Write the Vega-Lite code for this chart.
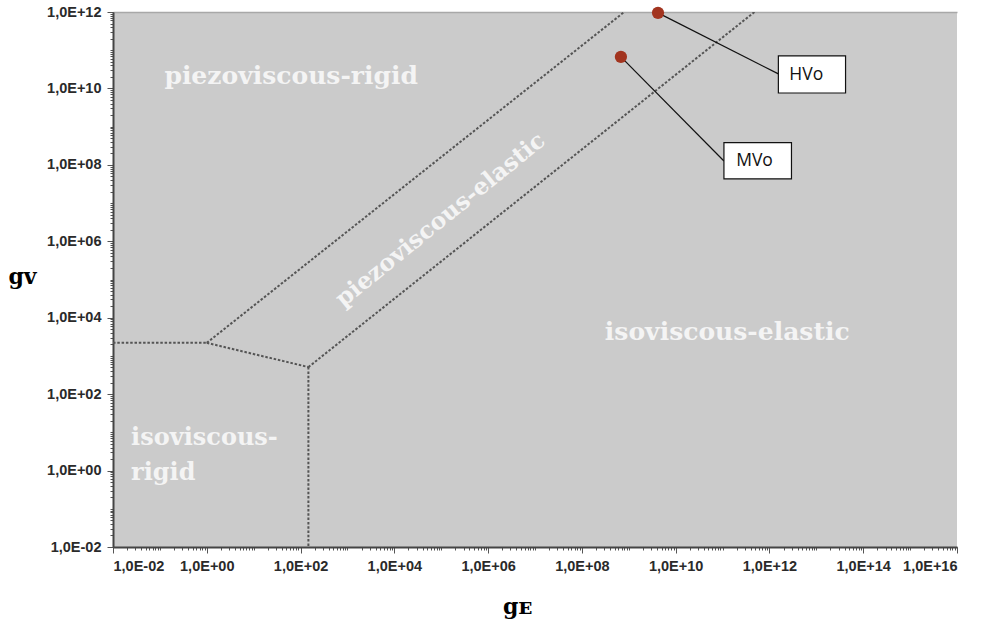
{
  "$schema": "https://vega.github.io/schema/vega-lite/v6.json",
  "width": 844,
  "height": 535,
  "autosize": {"type": "none"},
  "padding": {"left": 113, "top": 12, "right": 29, "bottom": 81},
  "background": "#ffffff",
  "config": {
    "view": {"fill": "#cbcbcb", "stroke": null},
    "axis": {
      "grid": false,
      "domainColor": "#444444",
      "domainWidth": 2,
      "tickColor": "#555555",
      "tickSize": 5,
      "labelFont": "Liberation Sans",
      "labelFontSize": 14.5,
      "labelFontWeight": "bold",
      "labelColor": "#2a2a2a",
      "titleFont": "DejaVu Serif",
      "titleFontSize": 22,
      "titleFontWeight": "bold",
      "titleColor": "#000000"
    }
  },
  "resolve": {"axis": {"x": "independent", "y": "independent"}},
  "datasets": {
    "bounds": [
      {"seg": "A", "ord": 1, "gE": 0.01, "gV": 2200},
      {"seg": "A", "ord": 2, "gE": 1, "gV": 2200},
      {"seg": "B", "ord": 1, "gE": 1, "gV": 2200},
      {"seg": "B", "ord": 2, "gE": 147, "gV": 510},
      {"seg": "C", "ord": 1, "gE": 147, "gV": 510},
      {"seg": "C", "ord": 2, "gE": 147, "gV": 0.01},
      {"seg": "D", "ord": 1, "gE": 1, "gV": 2200},
      {"seg": "D", "ord": 2, "gE": 8e8, "gV": 1e12},
      {"seg": "E", "ord": 1, "gE": 147, "gV": 510},
      {"seg": "E", "ord": 2, "gE": 4.8e11, "gV": 1e12}
    ],
    "oils": [
      {"name": "HVo", "gE": 4.2e9, "gV": 9.5e11},
      {"name": "MVo", "gE": 6.8e8, "gV": 6.7e10}
    ],
    "connectors": [
      {"name": "HVo", "ord": 1, "gE": 4.2e9, "gV": 9.5e11},
      {"name": "HVo", "ord": 2, "gE": 1.55e12, "gV": 2.4e10},
      {"name": "MVo", "ord": 1, "gE": 6.8e8, "gV": 6.7e10},
      {"name": "MVo", "ord": 2, "gE": 1.07e11, "gV": 1.26e8}
    ],
    "boxes": [
      {"name": "HVo", "x1": 1.55e12, "x2": 4.2e13, "y1": 7.6e9, "y2": 7.1e10, "tx": 6.1e12, "ty": 2.3e10},
      {"name": "MVo", "x1": 1.07e11, "x2": 2.95e12, "y1": 4.3e7, "y2": 3.8e8, "tx": 4.8e11, "ty": 1.26e8}
    ],
    "regions": [
      {"label": "piezoviscous-rigid", "gE": 63, "gV": 2.1e10},
      {"label": "isoviscous-elastic", "gE": 1.26e11, "gV": 4.3e3}
    ],
    "rotated": [
      {"label": "piezoviscous-elastic", "gE": 9.7e4, "gV": 3.6e6}
    ],
    "corner": [
      {"label": "isoviscous-\nrigid", "gE": 0.0243, "gV": 4.7}
    ]
  },
  "layer": [
    {
      "data": {"name": "bounds"},
      "mark": {"type": "line", "strokeOpacity": 0},
      "encoding": {
        "x": {
          "field": "gE", "type": "quantitative",
          "scale": {"type": "log", "domain": [0.01, 1e16], "nice": false},
          "axis": {
            "orient": "bottom",
            "values": [1e-2,2e-2,3e-2,4e-2,5e-2,6e-2,7e-2,8e-2,9e-2,
              1e-1,2e-1,3e-1,4e-1,5e-1,6e-1,7e-1,8e-1,9e-1,
              1e0,2e0,3e0,4e0,5e0,6e0,7e0,8e0,9e0,
              1e1,2e1,3e1,4e1,5e1,6e1,7e1,8e1,9e1,
              1e2,2e2,3e2,4e2,5e2,6e2,7e2,8e2,9e2,
              1e3,2e3,3e3,4e3,5e3,6e3,7e3,8e3,9e3,
              1e4,2e4,3e4,4e4,5e4,6e4,7e4,8e4,9e4,
              1e5,2e5,3e5,4e5,5e5,6e5,7e5,8e5,9e5,
              1e6,2e6,3e6,4e6,5e6,6e6,7e6,8e6,9e6,
              1e7,2e7,3e7,4e7,5e7,6e7,7e7,8e7,9e7,
              1e8,2e8,3e8,4e8,5e8,6e8,7e8,8e8,9e8,
              1e9,2e9,3e9,4e9,5e9,6e9,7e9,8e9,9e9,
              1e10,2e10,3e10,4e10,5e10,6e10,7e10,8e10,9e10,
              1e11,2e11,3e11,4e11,5e11,6e11,7e11,8e11,9e11,
              1e12,2e12,3e12,4e12,5e12,6e12,7e12,8e12,9e12,
              1e13,2e13,3e13,4e13,5e13,6e13,7e13,8e13,9e13,
              1e14,2e14,3e14,4e14,5e14,6e14,7e14,8e14,9e14,
              1e15,2e15,3e15,4e15,5e15,6e15,7e15,8e15,9e15,1e16],
            "labels": false,
            "domain": false,
            "tickSize": 3,
            "tickColor": "#555555",
            "title": null
          }
        },
        "y": {
          "field": "gV", "type": "quantitative",
          "scale": {"type": "log", "domain": [0.01, 1e12], "nice": false},
          "axis": {
            "orient": "left",
            "values": [1e-2,2e-2,3e-2,4e-2,5e-2,6e-2,7e-2,8e-2,9e-2,
              1e-1,2e-1,3e-1,4e-1,5e-1,6e-1,7e-1,8e-1,9e-1,
              1e0,2e0,3e0,4e0,5e0,6e0,7e0,8e0,9e0,
              1e1,2e1,3e1,4e1,5e1,6e1,7e1,8e1,9e1,
              1e2,2e2,3e2,4e2,5e2,6e2,7e2,8e2,9e2,
              1e3,2e3,3e3,4e3,5e3,6e3,7e3,8e3,9e3,
              1e4,2e4,3e4,4e4,5e4,6e4,7e4,8e4,9e4,
              1e5,2e5,3e5,4e5,5e5,6e5,7e5,8e5,9e5,
              1e6,2e6,3e6,4e6,5e6,6e6,7e6,8e6,9e6,
              1e7,2e7,3e7,4e7,5e7,6e7,7e7,8e7,9e7,
              1e8,2e8,3e8,4e8,5e8,6e8,7e8,8e8,9e8,
              1e9,2e9,3e9,4e9,5e9,6e9,7e9,8e9,9e9,
              1e10,2e10,3e10,4e10,5e10,6e10,7e10,8e10,9e10,
              1e11,2e11,3e11,4e11,5e11,6e11,7e11,8e11,9e11,1e12],
            "labels": false,
            "domain": false,
            "tickSize": 3,
            "tickColor": "#555555",
            "title": null
          }
        }
      }
    },
    {
      "data": {"name": "bounds"},
      "mark": {"type": "line", "strokeOpacity": 0},
      "encoding": {
        "x": {
          "field": "gE", "type": "quantitative",
          "axis": {"orient": "top", "labels": false, "ticks": false, "domainColor": "#a8a8a8", "domainWidth": 1.5, "title": null}
        },
        "y": {"field": "gV", "type": "quantitative", "axis": null}
      }
    },
    {
      "data": {"name": "bounds"},
      "mark": {"type": "line", "color": "#555555", "strokeWidth": 2, "strokeDash": [2.5, 1.8], "clip": true},
      "encoding": {
        "x": {
          "field": "gE", "type": "quantitative",
          "axis": {
            "orient": "bottom",
            "values": [0.01, 1, 100, 1e4, 1e6, 1e8, 1e10, 1e12, 1e14, 1e16],
            "labelExpr": "'1,0E' + (round(log(datum.value)/LN10) < 0 ? '-' : '+') + (abs(round(log(datum.value)/LN10)) < 10 ? '0' : '') + abs(round(log(datum.value)/LN10))",
            "labelPadding": 6,
            "tickSize": 6,
            "title": "gᴇ",
            "titleX": 404,
            "titleY": 66,
            "titleAlign": "center",
            "titleBaseline": "alphabetic"
          }
        },
        "y": {
          "field": "gV", "type": "quantitative",
          "axis": {
            "orient": "left",
            "values": [0.01, 1, 100, 1e4, 1e6, 1e8, 1e10, 1e12],
            "labelExpr": "'1,0E' + (round(log(datum.value)/LN10) < 0 ? '-' : '+') + (abs(round(log(datum.value)/LN10)) < 10 ? '0' : '') + abs(round(log(datum.value)/LN10))",
            "labelPadding": 6,
            "tickSize": 6,
            "title": "gᴠ",
            "titleAngle": 0,
            "titleX": -91,
            "titleY": 271,
            "titleAlign": "center",
            "titleBaseline": "alphabetic"
          }
        },
        "detail": {"field": "seg"},
        "order": {"field": "ord"}
      }
    },
    {
      "data": {"name": "connectors"},
      "mark": {"type": "line", "color": "#111111", "strokeWidth": 1.2},
      "encoding": {
        "x": {"field": "gE", "type": "quantitative", "axis": null},
        "y": {"field": "gV", "type": "quantitative", "axis": null},
        "detail": {"field": "name"},
        "order": {"field": "ord"}
      }
    },
    {
      "data": {"name": "oils"},
      "mark": {"type": "circle", "color": "#a2341f", "opacity": 1, "size": 150},
      "encoding": {
        "x": {"field": "gE", "type": "quantitative", "axis": null},
        "y": {"field": "gV", "type": "quantitative", "axis": null}
      }
    },
    {
      "data": {"name": "boxes"},
      "mark": {"type": "rect", "fill": "#ffffff", "stroke": "#111111", "strokeWidth": 1.2},
      "encoding": {
        "x": {"field": "x1", "type": "quantitative", "axis": null},
        "x2": {"field": "x2"},
        "y": {"field": "y1", "type": "quantitative", "axis": null},
        "y2": {"field": "y2"}
      }
    },
    {
      "data": {"name": "boxes"},
      "mark": {"type": "text", "font": "Open Sans", "fontSize": 17.5, "color": "#111111", "align": "center", "baseline": "middle"},
      "encoding": {
        "x": {"field": "tx", "type": "quantitative", "axis": null},
        "y": {"field": "ty", "type": "quantitative", "axis": null},
        "text": {"field": "name"}
      }
    },
    {
      "data": {"name": "regions"},
      "mark": {"type": "text", "font": "DejaVu Serif", "fontSize": 25, "fontWeight": "bold", "color": "#f4f4f4", "align": "center", "baseline": "middle"},
      "encoding": {
        "x": {"field": "gE", "type": "quantitative", "axis": null},
        "y": {"field": "gV", "type": "quantitative", "axis": null},
        "text": {"field": "label"}
      }
    },
    {
      "data": {"name": "rotated"},
      "mark": {"type": "text", "font": "DejaVu Serif", "fontSize": 23.5, "fontWeight": "bold", "color": "#f4f4f4", "align": "center", "baseline": "middle", "angle": 321},
      "encoding": {
        "x": {"field": "gE", "type": "quantitative", "axis": null},
        "y": {"field": "gV", "type": "quantitative", "axis": null},
        "text": {"field": "label"}
      }
    },
    {
      "data": {"name": "corner"},
      "mark": {"type": "text", "font": "DejaVu Serif", "fontSize": 24, "fontWeight": "bold", "color": "#f4f4f4", "align": "left", "baseline": "alphabetic", "lineBreak": "\n", "lineHeight": 35},
      "encoding": {
        "x": {"field": "gE", "type": "quantitative", "axis": null},
        "y": {"field": "gV", "type": "quantitative", "axis": null},
        "text": {"field": "label"}
      }
    }
  ]
}
